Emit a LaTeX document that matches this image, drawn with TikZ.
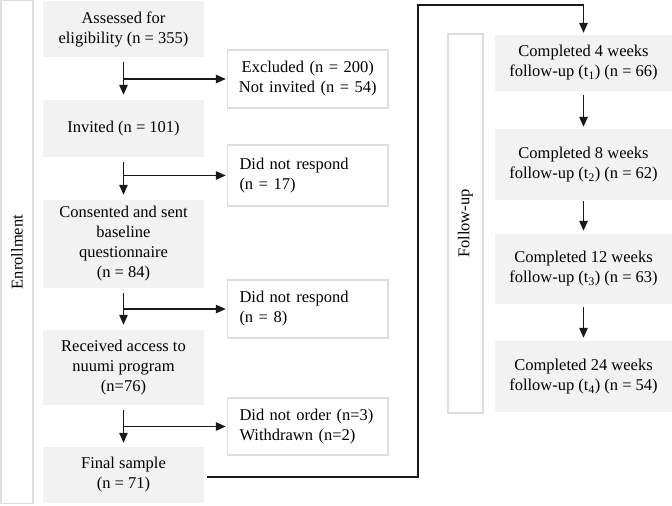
\documentclass[tikz,border=0pt]{standalone}
\usepackage{fontspec}
\setmainfont{Liberation Serif}
\usetikzlibrary{arrows.meta}
\definecolor{boxgray}{RGB}{242,242,242}
\definecolor{edgegray}{RGB}{222,222,222}
\definecolor{linec}{RGB}{25,25,25}
\begin{document}
\begin{tikzpicture}[x=1pt,y=-1pt,
 every node/.style={font=\fontsize{16.5}{20}\selectfont},
 graybox/.style={fill=boxgray, draw=none, align=center, inner sep=0pt},
 whitebox/.style={fill=white, draw=edgegray, line width=1.5pt, minimum width=160.5pt, inner xsep=12pt, inner ysep=0pt, text width=136.5pt, align=left},
 bar/.style={fill=white, draw=edgegray, line width=1.5pt, rotate=90, inner sep=0pt},
 arr/.style={draw=linec, line width=1.2pt, -{Triangle[length=10pt,width=8.5pt]}}
]
\useasboundingbox (0,0) rectangle (672,506);
% side bars
\node[bar, minimum width=503pt, minimum height=32pt] (enr) at (17,252) {Enrollment};
\node[bar, minimum width=379pt, minimum height=35pt] (fu) at (465.5,223.5) {Follow-up};
% left column
\node[graybox, minimum width=161pt, minimum height=56pt] (a1) at (123.5,29) {Assessed for\\eligibility (n = 355)};
\node[graybox, minimum width=161pt, minimum height=57pt] (a2) at (123.5,128.5) {Invited (n = 101)};
\node[graybox, minimum width=161pt, minimum height=88pt] (a3) at (123.5,244) {Consented and sent\\baseline\\questionnaire\\(n = 84)};
\node[graybox, minimum width=161pt, minimum height=75pt] (a4) at (123.5,367.5) {Received access to\\nuumi program\\(n=76)};
\node[graybox, minimum width=161pt, minimum height=56pt] (a5) at (123.5,475) {Final sample\\(n = 71)};
% exclusion boxes
\node[whitebox, text width=150pt, inner xsep=5.25pt, align=center, minimum height=58pt] (b1) at (307.75,79) {Excluded (n = 200)\\Not invited (n = 54)};
\node[whitebox, minimum height=61pt] (b2) at (307.75,175.5) {Did not respond\\(n = 17)};
\node[whitebox, minimum height=58pt] (b3) at (307.75,309) {Did not respond\\(n = 8)};
\node[whitebox, minimum height=57pt] (b4) at (307.75,426.5) {Did not order (n=3)\\Withdrawn (n=2)};
% follow-up column
\node[graybox, minimum width=177pt, minimum height=56pt] (c1) at (583.5,63) {Completed 4 weeks\\follow-up (t\textsubscript{1}) (n = 66)};
\node[graybox, minimum width=177pt, minimum height=71pt] (c2) at (583.5,164.5) {Completed 8 weeks\\follow-up (t\textsubscript{2}) (n = 62)};
\node[graybox, minimum width=177pt, minimum height=70pt] (c3) at (583.5,269) {Completed 12 weeks\\follow-up (t\textsubscript{3}) (n = 63)};
\node[graybox, minimum width=177pt, minimum height=71pt] (c4) at (583.5,376.5) {Completed 24 weeks\\follow-up (t\textsubscript{4}) (n = 54)};
% enrollment arrows
\draw[arr] ([yshift=-5pt]a1.south) -- ([yshift=5pt]a2.north);
\draw[arr] (a1.south |- b1.west) -- ([xshift=-1pt]b1.west);
\draw[arr] ([yshift=-5pt]a2.south) -- ([yshift=5pt]a3.north);
\draw[arr] (a2.south |- b2.west) -- ([xshift=-1pt]b2.west);
\draw[arr] ([yshift=-5pt]a3.south) -- ([yshift=5pt]a4.north);
\draw[arr] (a3.south |- b3.west) -- ([xshift=-1pt]b3.west);
\draw[arr] ([yshift=-5pt]a4.south) -- ([yshift=4pt]a5.north);
\draw[arr] (a4.south |- b4.west) -- ([xshift=-1pt]b4.west);
% link to follow-up
\coordinate (k1) at (418,5);
\draw[arr] ([xshift=3pt,yshift=-2pt]a5.east) -| (k1) -| ([yshift=2pt]c1.north);
% follow-up arrows
\draw[arr] ([yshift=-4pt]c1.south) -- ([yshift=2pt]c2.north);
\draw[arr] ([yshift=-1pt]c2.south) -- ([yshift=3pt]c3.north);
\draw[arr] ([yshift=-3pt]c3.south) -- ([yshift=3pt]c4.north);
\end{tikzpicture}
\end{document}
